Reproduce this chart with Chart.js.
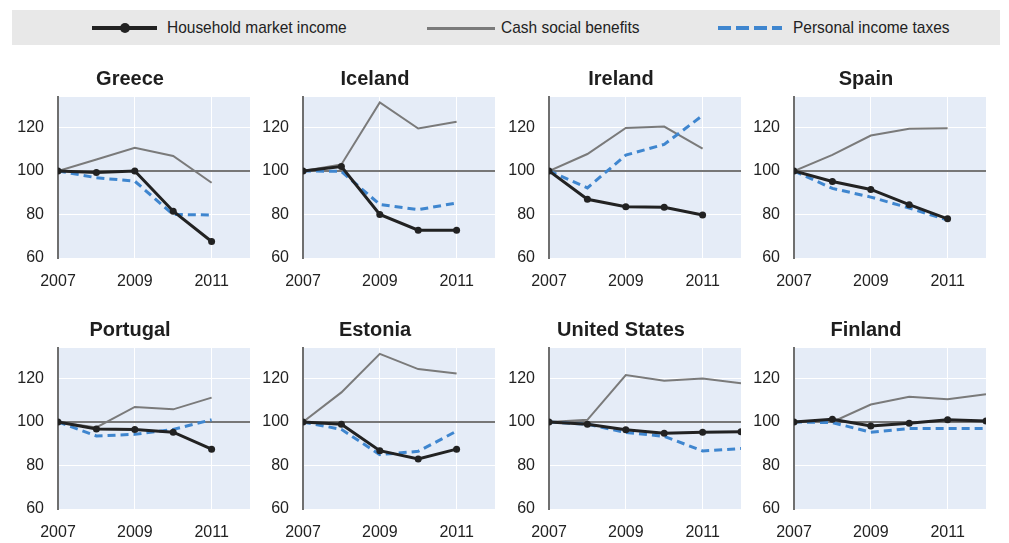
<!DOCTYPE html>
<html>
<head>
<meta charset="utf-8">
<script src="https://cdn.jsdelivr.net/npm/chart.js@4/dist/chart.umd.min.js"></script>
<style>
  html,body{margin:0;padding:0;background:#fff;}
  body{width:1009px;height:543px;position:relative;overflow:hidden;font-family:"Liberation Sans Narrow","Arial Narrow","Liberation Sans",Arial,sans-serif;}
  .legend{position:absolute;left:12px;top:10px;width:988px;height:35px;background:#e8e8e8;}
  .lg{position:absolute;top:0;height:35px;line-height:35px;font-size:17px;color:#222;white-space:nowrap;transform:scaleX(0.91);transform-origin:left center;}
  .sw{position:absolute;top:16px;height:4px;}
  .panel{position:absolute;}
</style>
</head>
<body>
<div class="legend">
  <div class="sw" style="left:80px;width:65px;background:#222;"></div>
  <div class="sw" style="left:108px;top:13px;width:10px;height:10px;border-radius:50%;background:#222;"></div>
  <div class="lg" style="left:155px;">Household market income</div>
  <div class="sw" style="left:415px;width:68px;top:17px;height:3px;background:#7a7a7a;"></div>
  <div class="lg" style="left:489px;">Cash social benefits</div>
  <div class="sw" style="left:706px;width:64px;background:repeating-linear-gradient(to right,#3f86cf 0 13px,transparent 13px 18px);"></div>
  <div class="lg" style="left:781px;">Personal income taxes</div>
</div>
<canvas id="c0" class="panel" width="245" height="230" style="left:10px;top:62px"></canvas>
<canvas id="c1" class="panel" width="245" height="230" style="left:255px;top:62px"></canvas>
<canvas id="c2" class="panel" width="245" height="230" style="left:501px;top:62px"></canvas>
<canvas id="c3" class="panel" width="245" height="230" style="left:746px;top:62px"></canvas>
<canvas id="c4" class="panel" width="245" height="230" style="left:10px;top:313px"></canvas>
<canvas id="c5" class="panel" width="245" height="230" style="left:255px;top:313px"></canvas>
<canvas id="c6" class="panel" width="245" height="230" style="left:501px;top:313px"></canvas>
<canvas id="c7" class="panel" width="245" height="230" style="left:746px;top:313px"></canvas>
<script>
const YEARS = [2007, 2008, 2009, 2010, 2011, 2012];
const COUNTRIES = ["Greece","Iceland","Ireland","Spain","Portugal","Estonia","United States","Finland"];
const Y_TICKS = [60, 80, 100, 120];
const X_TICKS = [2007, 2009, 2011];

// index 2007 = 100
const MARKET = [
  [100, 99.3, 100, 81.5, 67.6, null],
  [100, 102, 80, 72.8, 72.8, null],
  [100, 87, 83.6, 83.3, 79.8, null],
  [100, 95.2, 91.5, 84.5, 78, null],
  [100, 96.8, 96.5, 95.3, 87.5, null],
  [100, 99, 86.8, 83, 87.5, null],
  [100, 99, 96.4, 94.8, 95.3, 95.5],
  [100, 101.2, 98.2, 99.4, 101, 100.4]
];
const CASH = [
  [100, 105.3, 110.7, 106.9, 94.6, null],
  [100, 103, 131.5, 119.5, 122.6, null],
  [100, 107.8, 119.8, 120.4, 110.3, null],
  [100, 107.4, 116.3, 119.4, 119.6, null],
  [100, 97.5, 106.9, 105.8, 111.2, null],
  [100, 113.6, 131.3, 124.3, 122.3, null],
  [100, 101, 121.6, 118.9, 120, 117.8],
  [100, 100, 108, 111.6, 110.5, 112.7]
];
const TAXES = [
  [100, 96.9, 95.3, 80, 79.8, null],
  [100, 99.8, 84.6, 82.2, 85.3, null],
  [100, 92.2, 107.3, 112.2, 125.5, null],
  [100, 92, 88, 83, 77.4, null],
  [100, 93.6, 94.3, 96.6, 101, null],
  [100, 96.6, 85, 86.5, 95.8, null],
  [100, 99, 95.2, 93.4, 86.7, 87.8],
  [100, 99.7, 95.3, 97, 97, 97]
];

const FONT = "'Liberation Sans',Arial,sans-serif";
const pts = arr => YEARS.map((y,i)=>({x:y, y:arr[i]}));

const plotBg = {
  id:"plotBg",
  beforeDraw(chart){
    const a=chart.chartArea, ctx=chart.ctx;
    ctx.save(); ctx.fillStyle="#e5ecf7"; ctx.fillRect(a.left,a.top,a.right-a.left,a.bottom-a.top); ctx.restore();
  }
};

COUNTRIES.forEach((name,k)=>{
  new Chart(document.getElementById("c"+k),{
    type:"line",
    data:{datasets:[
      {label:"Household market income",data:pts(MARKET[k]),borderColor:"#222",backgroundColor:"#222",borderWidth:3,
       pointRadius:3.5,pointBackgroundColor:"#222",pointBorderWidth:0,order:0},
      {label:"Personal income taxes",data:pts(TAXES[k]),borderColor:"#3f86cf",borderWidth:3,borderDash:[8,5],pointRadius:0,order:1},
      {label:"Cash social benefits",data:pts(CASH[k]),borderColor:"#7a7a7a",borderWidth:2,pointRadius:0,order:2}
    ]},
    options:{
      responsive:false, animation:false, devicePixelRatio:1,
      layout:{padding:{left:0,right:5,top:0,bottom:0}},
      plugins:{
        legend:{display:false}, tooltip:{enabled:false},
        title:{display:true,text:name,color:"#1e1e1e",font:{family:FONT,size:20,weight:"bold"},padding:{top:5,bottom:6}}
      },
      scales:{
        x:{type:"linear",min:2007,max:2012,
          afterFit:s=>{s.height=34;},
          afterBuildTicks:s=>{s.ticks=X_TICKS.map(v=>({value:v}));},
          ticks:{color:"#222",font:{family:FONT,size:16},padding:14,maxRotation:0,autoSkip:false,callback:v=>String(v)},
          grid:{color:"#ffffff",lineWidth:1,drawTicks:false},
          border:{display:false}},
        y:{min:60,max:134,
          afterFit:s=>{s.width=48;},
          afterBuildTicks:s=>{s.ticks=Y_TICKS.map(v=>({value:v}));},
          ticks:{color:"#222",font:{family:FONT,size:16},padding:14},
          grid:{drawTicks:false,color:c=>c.tick&&c.tick.value===100?"#777":"#ffffff",lineWidth:c=>c.tick&&c.tick.value===100?2:1},
          border:{display:true,color:"#6f6f6f",width:2}}
      }
    },
    plugins:[plotBg]
  });
});
</script>
</body>
</html>
